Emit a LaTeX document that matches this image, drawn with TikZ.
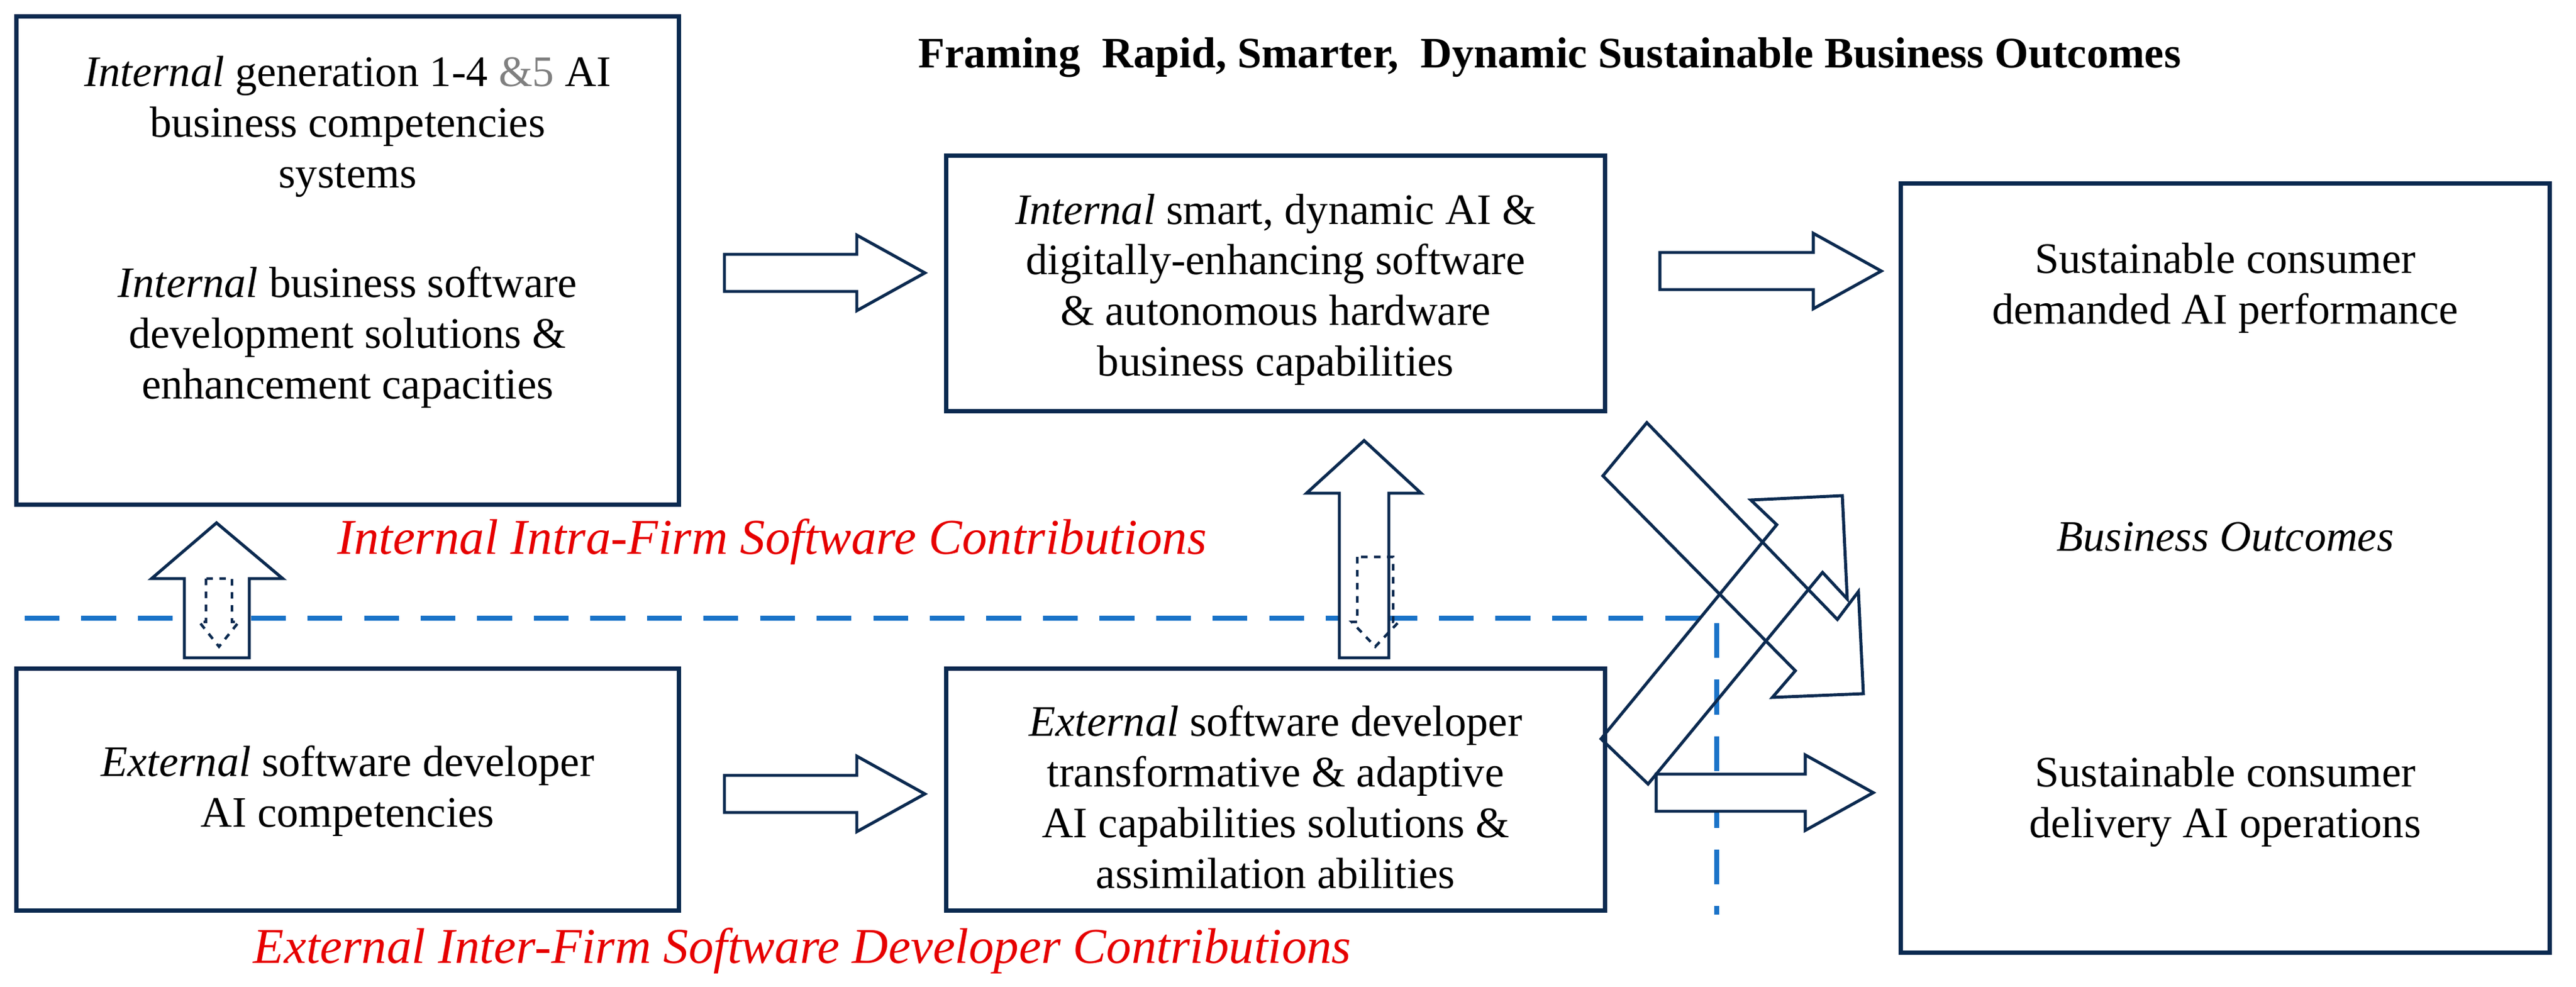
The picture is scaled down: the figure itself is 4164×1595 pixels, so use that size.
\documentclass[tikz,border=0pt]{standalone}
\usepackage{fontspec}
\setmainfont{Liberation Serif}
\begin{document}
\begin{tikzpicture}[x=0.01cm,y=-0.01cm,
  navy/.style={draw={rgb,255:red,11;green,42;blue,80}},
  box/.style={navy,line width=2pt,inner sep=0pt},
  blk/.style={navy,line width=1.4pt,line join=miter},
  txt/.style={align=center,font=\fontsize{20}{23.3}\selectfont,inner sep=0pt},
  red/.style={text={rgb,255:red,230;green,0;blue,0},font=\fontsize{23}{26}\selectfont\itshape},
  bluedash/.style={draw={rgb,255:red,26;green,115;blue,200},line width=2.2pt,dash pattern=on 16pt off 10pt}]
\useasboundingbox (0,0) rectangle (4164,1595);
\node[box,minimum width=10.7cm,minimum height=7.88cm] (b1) at (562,421) {};
\node[box,minimum width=10.65cm,minimum height=4.12cm] (b2) at (2062,458) {};
\node[box,minimum width=10.49cm,minimum height=12.43cm] (b3) at (3597,918) {};
\node[box,minimum width=10.7cm,minimum height=3.91cm] (b4) at (562,1276) {};
\node[box,minimum width=10.65cm,minimum height=3.91cm] (b5) at (2062,1276) {};
\node[font=\fontsize{20}{24}\selectfont\bfseries] (title) at (2505,93) {Framing\ \ Rapid, Smarter, \ Dynamic Sustainable Business Outcomes};
\node[txt] (t1a) at (562,205) {\textit{Internal} generation 1-4 \textcolor{gray}{\&5} AI\\business competencies\\systems};
\node[txt] (t1b) at (562,545) {\textit{Internal} business software\\development solutions \&\\enhancement capacities};
\node[txt] (t2) at (2062,468) {\textit{Internal} smart, dynamic AI \&\\digitally-enhancing software\\\& autonomous hardware\\business capabilities};
\node[txt] (t3a) at (3597,466) {Sustainable consumer\\demanded AI performance};
\node[txt,font=\fontsize{20}{23.3}\selectfont\itshape] (t3b) at (3597,868) {Business Outcomes};
\node[txt] (t3c) at (3597,1296) {Sustainable consumer\\delivery AI operations};
\node[txt] (t4) at (562,1278) {\textit{External} software developer\\AI competencies};
\node[txt] (t5) at (2062,1288) {\textit{External} software developer\\transformative \& adaptive\\AI capabilities solutions \&\\assimilation abilities};
\node[red] (r1) at (1248,876) {Internal Intra-Firm Software Contributions};
\node[red] (r2) at (1297,1537) {External Inter-Firm Software Developer Contributions};
% dashed blue
\coordinate (d0) at (40,999); \coordinate (d1) at (2775,999); \coordinate (d2) at (2775,1478);
\draw[bluedash] (d0) -- (d1) -- (d2);
% right block arrows
\foreach \x/\y/\w in {1171/441/324, 2683/438/358, 1171/1283/324, 2677/1281/351}{
  \draw[blk,fill=white] (\x,\y-30) -- ++(\w-110,0) -- ++(0,-31) -- (\x+\w,\y) -- (\x+\w-110,\y+61) -- ++(0,-31) -- (\x,\y+30) -- cycle;
}
% up arrows with inner dashed down arrows
\draw[blk,fill=white] (298,1063) -- (298,935) -- (245,935) -- (350,845) -- (457,935) -- (403,935) -- (403,1063) -- cycle;
\draw[blk,line width=1.2pt,dashed] (333,935) -- (333,1005) -- (322,1005) -- (354,1045) -- (386,1005) -- (375,1005) -- (375,935) -- cycle;
\draw[blk,fill=white] (2165,1063) -- (2165,797) -- (2112,797) -- (2205,712) -- (2297,797) -- (2245,797) -- (2245,1063) -- cycle;
\draw[blk,line width=1.2pt,dashed] (2194,900) -- (2194,1005) -- (2185,1005) -- (2223,1045) -- (2261,1005) -- (2252,1005) -- (2252,900) -- cycle;
% diagonal arrows
\draw[blk] (2662,683) -- (2970,1001) -- (3004,956) -- (3012,1121) -- (2865,1127) -- (2902,1084) -- (2591,769) -- cycle;
\draw[blk] (2588,1194) -- (2872,848) -- (2830,808) -- (2978,801) -- (2986,968) -- (2946,925) -- (2664,1267) -- cycle;
\end{tikzpicture}
\end{document}
